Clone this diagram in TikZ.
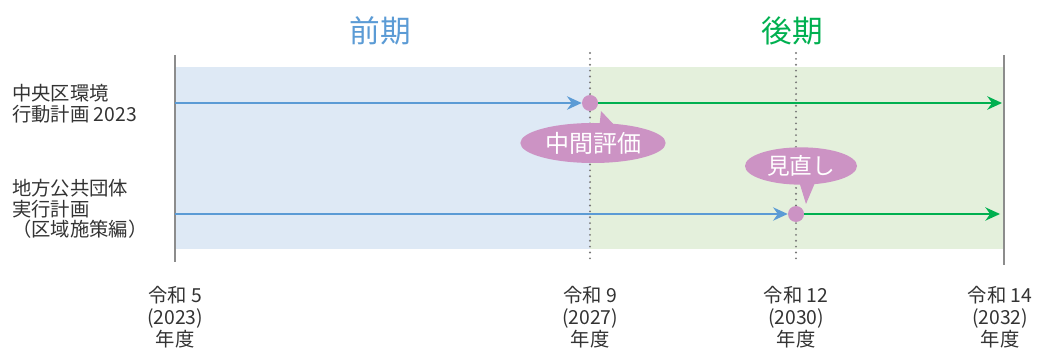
\documentclass[tikz,border=0pt]{standalone}
\usepackage{fontspec}
\setmainfont{Noto Sans CJK JP}
\usetikzlibrary{arrows.meta,shapes.geometric}
\definecolor{bandblue}{HTML}{DEE9F5}
\definecolor{bandgreen}{HTML}{E4F0DC}
\definecolor{lineblue}{HTML}{5B9BD5}
\definecolor{linegreen}{HTML}{00B050}
\definecolor{pink}{HTML}{CC93C4}
\definecolor{txt}{HTML}{333333}
\definecolor{axisgray}{HTML}{8C8C8C}
\definecolor{dotgray}{HTML}{777777}
\tikzset{
  axis/.style={draw=axisgray, line width=1.3pt},
  dotline/.style={draw=dotgray, line width=1.6pt, line cap=round, dash pattern=on 0pt off 4.4pt},
  bluearrow/.style={draw=lineblue, -{Stealth[length=11pt,width=10pt]}},
  greenarrow/.style={draw=linegreen, -{Stealth[length=11pt,width=10pt]}},
  dot/.style={circle, fill=pink, minimum size=12pt, inner sep=0pt},
  callout/.style={ellipse, fill=pink, text=white, inner sep=0pt},
  rowlabel/.style={anchor=north west, align=left, text=txt, font=\fontsize{14.5}{15.5}\selectfont, inner sep=0pt},
  yearlabel/.style={anchor=north, align=center, text=txt, font=\fontsize{14.5}{16.5}\selectfont, inner sep=0pt},
  period/.style={font=\fontsize{23}{25}\selectfont}
}
\begin{document}
\begin{tikzpicture}[x=0.75pt,y=-0.75pt]
\useasboundingbox (0,0) rectangle (1037,352);
% bands
\fill[bandblue] (175,67) rectangle (590,249);
\fill[bandgreen] (590,67) rectangle (1003,249);
% axes
\coordinate (L0) at (175,55); \coordinate (L1) at (175,262);
\coordinate (R0) at (1004,55); \coordinate (R1) at (1004,265);
\draw[axis] (L0) -- (L1);
\draw[axis] (R0) -- (R1);
\coordinate (M0) at (590,53); \coordinate (M1) at (590,263);
\coordinate (N0) at (796,53); \coordinate (N1) at (796,263);
\draw[dotline] (M0) -- (M1);
\draw[dotline] (N0) -- (N1);
% period titles
\node[period, text=lineblue] (zenki) at (380,31) {前期};
\node[period, text=linegreen] (kouki) at (792,31) {後期};
% row 1
\coordinate (a0) at (175,103);
\node[dot] (d1) at (590,103) {};
\coordinate (a1) at (1002,103);
\draw[bluearrow, line width=2.2pt] (a0) -- (d1.west);
\draw[greenarrow, line width=2.2pt] (d1.east) -- (a1);
% row 2
\coordinate (b0) at (175,214);
\node[dot] (d2) at (796,214) {};
\coordinate (b1) at (1000,214);
\draw[bluearrow, line width=1.2pt] (b0) -- (d2.west);
\draw[greenarrow, line width=1.2pt] (d2.east) -- (b1);
% callouts
\fill[pink] (599,130) -- (601,111) -- (617,128) -- cycle;
\node[callout, minimum width=109pt, minimum height=30pt, font=\fontsize{18}{20}\selectfont] (c1) at (593,143) {中間評価};
\fill[pink] (798,178) -- (806,204) -- (817,178) -- cycle;
\node[callout, minimum width=84pt, minimum height=28pt, font=\fontsize{17}{20}\selectfont] (c2) at (801,166) {見直し};
% row labels
\node[rowlabel] (r1) at (12,84) {中央区環境\\行動計画 2023};
\node[rowlabel] (r2) at (12,179) {地方公共団体\\実行計画\\（区域施策編）};
% year labels
\node[yearlabel] (y1) at (175,286) {令和 5\\(2023)\\年度};
\node[yearlabel] (y2) at (590,286) {令和 9\\(2027)\\年度};
\node[yearlabel] (y3) at (796,286) {令和 12\\(2030)\\年度};
\node[yearlabel] (y4) at (1000,286) {令和 14\\(2032)\\年度};
\end{tikzpicture}
\end{document}
